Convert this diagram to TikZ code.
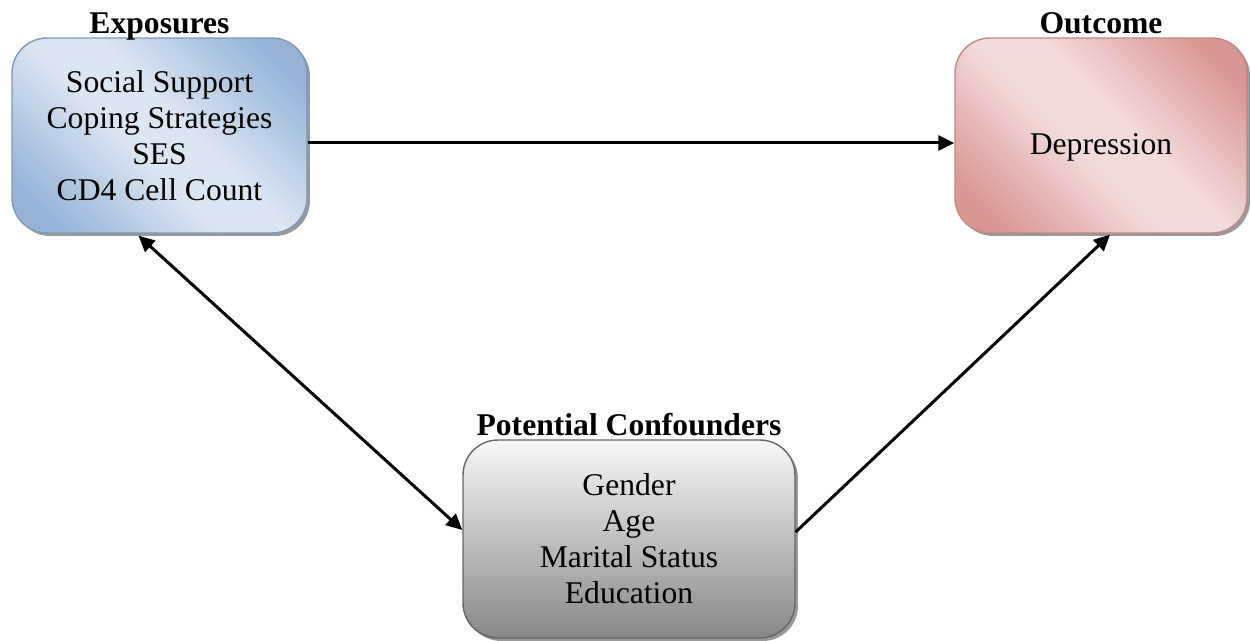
\documentclass[tikz,border=0pt]{standalone}
\usepackage{fontspec}
\setmainfont{Liberation Serif}
\usetikzlibrary{arrows.meta,shadows}
\definecolor{bluedark}{HTML}{95B3D7}
\definecolor{bluelight}{HTML}{DCE6F2}
\definecolor{reddark}{HTML}{D99694}
\definecolor{redlight}{HTML}{F2DCDB}
\pgfdeclarehorizontalshading{expofade}{100bp}{color(0bp)=(bluedark); color(22bp)=(bluedark); color(45bp)=(bluelight); color(55bp)=(bluelight); color(78bp)=(bluedark); color(100bp)=(bluedark)}
\pgfdeclarehorizontalshading{outfade}{100bp}{color(0bp)=(reddark); color(22bp)=(reddark); color(45bp)=(redlight); color(55bp)=(redlight); color(78bp)=(reddark); color(100bp)=(reddark)}
\tikzset{
  box/.style={rounded corners=0.7cm, align=center, line width=0.8pt,
    font=\fontsize{18}{20.5}\selectfont,
    drop shadow={shadow xshift=0.06cm, shadow yshift=-0.06cm, fill=black!40, opacity=1}},
  expobox/.style={box, draw=bluedark!85!black, shading=expofade, shading angle=45},
  outbox/.style={box, draw=reddark!90!black, shading=outfade, shading angle=45},
  confbox/.style={box, draw=black!60, top color=black!3, bottom color=black!47},
  title/.style={font=\fontsize{18}{20}\selectfont\bfseries, anchor=base},
  arr/.style={line width=1.7pt, -{Triangle[length=0.32cm,width=0.3cm]}},
  dblarr/.style={line width=1.7pt, {Triangle[length=0.32cm,width=0.3cm]}-{Triangle[length=0.32cm,width=0.3cm]}},
}
\begin{document}
\begin{tikzpicture}[x=0.02cm, y=0.02cm]
  \useasboundingbox (0,0) rectangle (1251,641);
  % the three boxes
  \node[expobox, minimum width=5.9cm, minimum height=3.9cm] (exp) at (159.5,505.5)
    {Social Support\\Coping Strategies\\SES\\CD4 Cell Count};
  \node[outbox, minimum width=5.84cm, minimum height=3.9cm] (out) at (1101,505.5)
    {\raisebox{-0.38cm}[0pt][0pt]{Depression}};
  \node[confbox, minimum width=6.64cm, minimum height=3.96cm] (conf) at (629,102)
    {Gender\\Age\\Marital Status\\Education};
  % titles
  \foreach \id / \txt in {exp/Exposures, out/Outcome, conf/Potential Confounders}{
    \node[title] (\id-title) at ([yshift=0.07cm]\id.north) {\txt};
  }
  % arrows
  \draw[arr] ([yshift=-0.15cm]exp.east) -- ([yshift=-0.15cm]out.west);
  \draw[dblarr] ([xshift=-0.42cm,yshift=-0.04cm]exp.south) -- ([yshift=0.18cm]conf.west);
  \draw[arr] ([yshift=0.14cm]conf.east) -- ([xshift=0.18cm,yshift=-0.02cm]out.south);
\end{tikzpicture}
\end{document}
